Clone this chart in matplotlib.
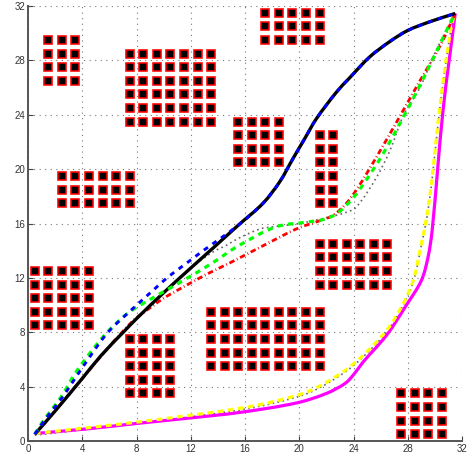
import matplotlib
matplotlib.use("Agg")
import matplotlib.pyplot as plt
import numpy as np
from matplotlib.patches import PathPatch
from matplotlib.path import Path

plt.rcParams["font.family"] = ["Liberation Sans", "DejaVu Sans"]

# obstacle blocks: (first x, last x, first y, last y), cell centres
blocks = [
    (0.5, 4.5, 8.5, 12.5),
    (7.5, 10.5, 3.5, 7.5),
    (13.5, 21.5, 5.5, 9.5),
    (21.5, 26.5, 11.5, 14.5),
    (27.5, 30.5, 0.5, 3.5),
    (17.5, 21.5, 29.5, 31.5),
    (15.5, 18.5, 20.5, 23.5),
    (21.5, 22.5, 17.5, 22.5),
    (1.5, 3.5, 26.5, 29.5),
    (7.5, 13.5, 23.5, 28.5),
    (2.5, 7.5, 17.5, 19.5),
]

upper_x = [17.33, 18.56, 19.54, 20.4, 21.26, 22.74, 23.7, 25.2, 26.7, 28.0, 29.65, 31.5]
upper_y = [17.49, 19.07, 20.78, 22.24, 23.7, 25.66, 26.7, 28.26, 29.4, 30.2, 30.85, 31.45]

black_x = [0.5, 1.96, 4.0, 5.4, 7.12, 8.0, 9.97, 11.93, 13.65, 15.5] + upper_x
black_y = [0.5, 2.16, 4.6, 6.3, 8.1, 9.0, 10.88, 12.66, 14.2, 15.87] + upper_y

blue_x = [0.5, 1.1, 1.7, 2.45, 3.07, 4.42, 5.9, 8.0, 9.23, 10.33, 11.56, 12.79, 14.0, 15.5] + upper_x
blue_y = [0.5, 1.35, 2.15, 3.1, 4.0, 6.0, 8.0, 9.99, 11.09, 12.07, 12.98, 13.91, 14.77, 15.87] + upper_y

green_x = [0.5, 1.1, 2.45, 3.56, 5.03, 6.0, 7.5, 8.98, 10.33, 11.69, 13.6, 15.5, 18.3, 20.55, 21.8, 22.8, 23.9,
           24.85, 26.1, 27.55, 28.66, 30.0, 31.1, 31.5]
green_y = [0.5, 1.45, 3.26, 5.1, 7.06, 8.17, 9.5, 10.4, 11.17, 11.95, 13.1, 14.35, 15.76, 16.1, 16.3, 16.75, 17.8,
           19.07, 21.0, 23.6, 25.7, 28.4, 30.7, 31.45]

red_x = [0.5, 1.35, 2.57, 4.05, 5.9, 7.75, 8.5, 9.97, 11.56, 13.28, 14.88, 17.4, 19.9, 21.5, 22.5, 23.4, 24.3, 25.7, 27.2,
         28.9, 30.4, 31.5]
red_y = [0.5, 1.45, 2.9, 4.65, 6.85, 8.85, 9.43, 10.48, 11.39, 12.32, 13.1, 14.4, 15.65, 16.2, 16.6, 17.4, 18.6, 20.9, 23.5,
         26.5, 29.1, 31.45]

dot_x = [0.5, 1.96, 4.0, 7.12, 9.97, 11.93, 13.65, 14.63, 15.5, 17.1, 18.1, 20.0, 22.3, 23.4, 24.2, 25.7, 26.7,
         27.7, 28.9, 30.1, 31.5]
dot_y = [0.5, 2.16, 4.6, 8.1, 10.88, 12.66, 13.91, 14.4, 14.9, 15.6, 15.76, 16.0, 16.5, 16.8, 17.2, 19.4, 21.4,
         24.0, 26.0, 28.75, 31.45]

yellow_x = [0.5, 4.42, 8.1, 12.0, 15.6, 18.1, 20.8, 23.25, 24.7, 26.45, 27.55, 28.4, 29.0, 29.4, 29.8,
            30.25, 30.75, 31.25, 31.5]
yellow_y = [0.55, 0.98, 1.4, 1.9, 2.4, 2.9, 3.7, 5.1, 6.3, 8.15, 9.9, 11.8, 14.5, 16.5, 19.4,
            23.6, 27.5, 30.7, 31.45]

magenta_x = [0.5, 4.42, 8.1, 12.0, 15.6, 19.8, 22.0, 23.4, 24.1, 24.7, 26.45, 27.9, 29.0, 29.5, 29.8,
             30.6, 31.5]
magenta_y = [0.55, 0.9, 1.3, 1.7, 2.1, 2.8, 3.5, 4.25, 5.0, 5.8, 7.8, 10.0, 11.8, 13.55, 15.5,
             24.3, 31.45]

ticks = [0, 4, 8, 12, 16, 20, 24, 28, 32]


def smooth_path(xs, ys):
    # bezier path through the read points, so the curves do not look kinked
    p = np.column_stack([xs, ys])
    d = np.linalg.norm(np.diff(p, axis=0), axis=1)
    m = np.zeros_like(p)
    m[1:-1] = (p[2:] - p[:-2]) / (d[1:] + d[:-1])[:, None]
    m[0] = (p[1] - p[0]) / d[0]
    m[-1] = (p[-1] - p[-2]) / d[-1]
    verts = [p[0]]
    codes = [Path.MOVETO]
    for i in range(len(d)):
        verts += [p[i] + m[i] * d[i] / 3, p[i + 1] - m[i + 1] * d[i] / 3, p[i + 1]]
        codes += [Path.CURVE4] * 3
    return Path(verts, codes)


def draw_curve(ax, xs, ys, color, lw, ls, zorder):
    ax.add_patch(PathPatch(smooth_path(xs, ys), fill=False, edgecolor=color, lw=lw, ls=ls,
                           zorder=zorder, capstyle="butt"))


fig = plt.figure(figsize=(4.72, 4.59), dpi=100)
ax = fig.add_axes([28 / 472, 1 - 441 / 459, 434 / 472, 435 / 459])

for x0, x1, y0, y1 in blocks:
    xs, ys = np.meshgrid(np.arange(x0, x1 + 0.5), np.arange(y0, y1 + 0.5))
    ax.plot(xs.ravel(), ys.ravel(), ls="none", marker="s", ms=6.2, mfc="black",
            mec="red", mew=1.15, zorder=2, clip_on=False)

draw_curve(ax, dot_x, dot_y, "#666666", 1.2, (0, (1, 2)), 3)
draw_curve(ax, yellow_x, np.array(yellow_y) - 0.12, "#666666", 1.2, (0, (1, 2)), 3)
draw_curve(ax, magenta_x, magenta_y, "magenta", 2.3, "-", 4)
draw_curve(ax, yellow_x, yellow_y, "yellow", 2.3, (0, (1.8, 1.4)), 5)
draw_curve(ax, red_x, red_y, "red", 2.0, (0, (2, 1, 0.3, 1)), 5)
draw_curve(ax, black_x, black_y, "black", 2.4, "-", 6)
draw_curve(ax, green_x, green_y, "lime", 2.3, (0, (1.7, 1.6)), 7)
draw_curve(ax, blue_x, blue_y, "blue", 2.1, (0, (1.7, 1.9)), 7)

ax.set_xlim(0, 32)
ax.set_ylim(0, 32)
ax.set_xticks(ticks)
ax.set_yticks(ticks)
ax.grid(True, color="#777777", ls=(0, (1, 4)), lw=0.8)
ax.set_axisbelow(True)
ax.spines["top"].set_visible(False)
ax.spines["right"].set_visible(False)
ax.spines["left"].set_color("#555555")
ax.spines["bottom"].set_color("#555555")
ax.spines["left"].set_linewidth(1.4)
ax.spines["bottom"].set_linewidth(1.4)
ax.tick_params(direction="in", length=3.5, width=0.8, color="#444444", labelcolor="#333333",
               labelsize=7, pad=2)

fig.savefig("out.png", dpi=100)
